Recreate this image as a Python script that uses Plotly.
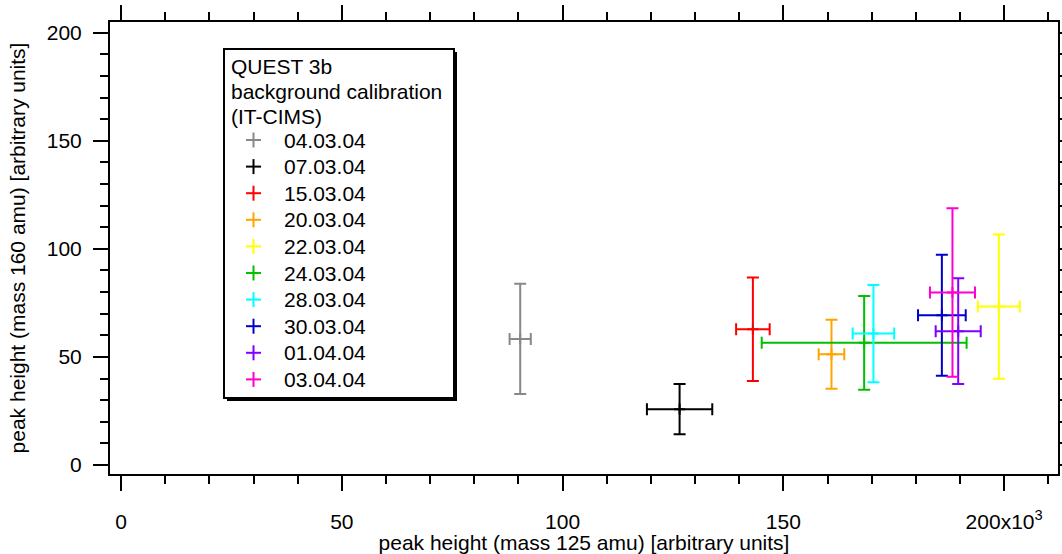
import plotly.graph_objects as go

# ---- data (x in units of 10^3) ----
dates = ["04.03.04", "07.03.04", "15.03.04", "20.03.04", "22.03.04",
         "24.03.04", "28.03.04", "30.03.04", "01.04.04", "03.04.04"]
colors = ["#888888", "#000000", "#ff0000", "#ffa500", "#ffff00",
          "#00c000", "#00ffff", "#0000cc", "#8000ff", "#ff00cc"]
x_mass125 = [90.4, 126.5, 143.1, 160.9, 198.8, 168.3, 170.4, 185.9, 189.6, 188.3]
x_err = [2.4, 7.4, 3.8, 2.9, 4.75, 23.2, 4.7, 5.4, 5.1, 5.1]
y_mass160 = [58.3, 25.8, 62.8, 51.2, 73.3, 56.5, 60.8, 69.3, 61.9, 79.8]
y_err = [25.5, 11.6, 24.0, 16.0, 33.4, 21.7, 22.5, 28.0, 24.5, 39.0]

x_tickvals = [0, 50, 100, 150, 200]
x_ticktext = ["0", "50", "100", "150", "200x10<sup>3</sup>"]
y_tickvals = [0, 50, 100, 150, 200]
legend_title = ["QUEST 3b", "background calibration", "(IT-CIMS)"]

FONT = "Liberation Sans, Arial, Helvetica, sans-serif"
FS = 21
W, H = 1062, 554
ML, MR, MT, MB = 110, 4, 22, 80
PW, PH = W - ML - MR, H - MT - MB


def px(xp):
    return (xp - ML) / PW


def py(yp):
    return (H - MB - yp) / PH


fig = go.Figure()
for d, c, x, xe, y, ye in zip(dates, colors, x_mass125, x_err, y_mass160, y_err):
    fig.add_trace(go.Scatter(
        x=[x], y=[y], name=d, mode="markers",
        marker=dict(symbol="cross-thin", size=8, color=c, line=dict(width=2, color=c)),
        error_x=dict(type="data", array=[xe], color=c, thickness=2, width=6),
        error_y=dict(type="data", array=[ye], color=c, thickness=2, width=6),
        showlegend=False,
    ))

axis_common = dict(
    showline=True, linewidth=2, linecolor="black", mirror="ticks",
    ticks="outside", ticklen=15, tickwidth=1.5, tickcolor="black",
    showgrid=False, zeroline=False,
    tickfont=dict(family=FONT, size=FS, color="black"),
    minor=dict(dtick=10, ticks="outside", ticklen=8, tickwidth=1.5, tickcolor="black", showgrid=False),
)

fig.update_layout(
    width=W, height=H,
    margin=dict(l=ML, r=MR, t=MT, b=MB, autoexpand=False),
    paper_bgcolor="white", plot_bgcolor="white",
    showlegend=False,
    xaxis=dict(range=[-2.5, 212.2], tickmode="array", tickvals=x_tickvals, ticktext=x_ticktext,
               ticklabelstandoff=13,
               title=dict(text="peak height (mass 125 amu) [arbitrary units]",
                          font=dict(family=FONT, size=FS, color="black"), standoff=0),
               **axis_common),
    yaxis=dict(range=[-4.2, 205], tickmode="array", tickvals=y_tickvals,
               ticklabelstandoff=7,
               title=dict(text="peak height (mass 160 amu) [arbitrary units]",
                          font=dict(family=FONT, size=FS, color="black"), standoff=15),
               **axis_common),
)

# ---- legend box (drawn manually, Igor-style with drop shadow) ----
bx0, bx1, by0, by1 = 224, 454, 49, 398
shapes = [
    dict(type="rect", xref="paper", yref="paper", x0=px(bx0 + 3), x1=px(bx1 + 3),
         y0=py(by0 + 3), y1=py(by1 + 3), fillcolor="black", line=dict(width=0), layer="above"),
    dict(type="rect", xref="paper", yref="paper", x0=px(bx0), x1=px(bx1),
         y0=py(by0), y1=py(by1), fillcolor="white", line=dict(width=2, color="black"), layer="above"),
]
annotations = []
for i, t in enumerate(legend_title):
    annotations.append(dict(xref="paper", yref="paper", x=px(229), y=py(66.7 + 25 * i),
                            text=t, showarrow=False, xanchor="left", yanchor="middle",
                            font=dict(family=FONT, size=FS, color="black")))
for i, (d, c) in enumerate(zip(dates, colors)):
    yc = 140 + 26.6 * i
    shapes.append(dict(type="line", xref="paper", yref="paper", x0=px(246), x1=px(261),
                       y0=py(yc), y1=py(yc), line=dict(color=c, width=2), layer="above"))
    shapes.append(dict(type="line", xref="paper", yref="paper", x0=px(253.5), x1=px(253.5),
                       y0=py(yc - 7.5), y1=py(yc + 7.5), line=dict(color=c, width=2), layer="above"))
    annotations.append(dict(xref="paper", yref="paper", x=px(282), y=py(yc),
                            text=d, showarrow=False, xanchor="left", yanchor="middle",
                            font=dict(family=FONT, size=FS, color="black")))
fig.update_layout(shapes=shapes, annotations=annotations)

fig.write_html("out.html")
